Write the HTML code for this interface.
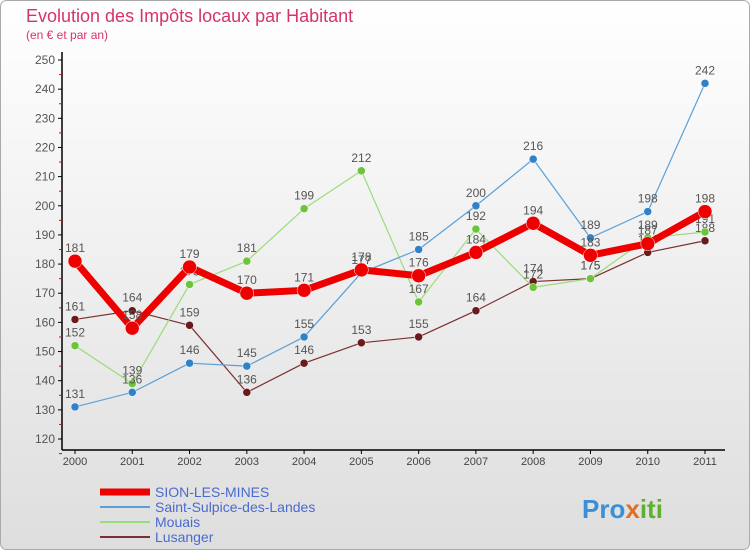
<!DOCTYPE html>
<html><head><meta charset="utf-8"><style>
body{margin:0;width:750px;height:550px;overflow:hidden;font-family:"Liberation Sans",sans-serif}
#c{position:absolute;left:0;top:0}
</style></head><body>
<svg id="c" width="750" height="550">
<defs><linearGradient id="bg" x1="0" y1="0" x2="0" y2="1"><stop offset="0" stop-color="#ffffff"/><stop offset="1" stop-color="#dedede"/></linearGradient></defs>
<rect x="0.5" y="0.5" width="749" height="549" rx="6" fill="url(#bg)" stroke="#aaa"/>
<text x="26" y="22" font-size="18" fill="#d6336c">Evolution des Impôts locaux par Habitant</text>
<text x="26" y="39" font-size="12" fill="#d6336c">(en € et par an)</text>
<g id="axes"></g><g id="series"></g><g id="legend"></g>
<text x="582" y="518" font-size="26" font-weight="bold" fill="#3a8fd6">Pro<tspan fill="#e07020">x</tspan><tspan fill="#60b030">iti</tspan></text>
</svg>
<script>
const years=["2000","2001","2002","2003","2004","2005","2006","2007","2008","2009","2010","2011"];
const yTicks=[120,130,140,150,160,170,180,190,200,210,220,230,240,250];
const sion=[181,158,179,170,171,178,176,184,194,183,187,198];
const sulpice=[131,136,146,145,155,177,185,200,216,189,198,242];
const mouais=[152,139,173,181,199,212,167,192,172,175,189,191];
const lusanger=[161,164,159,136,146,153,155,164,174,175,184,188];
const NS="http://www.w3.org/2000/svg";
const X=i=>75+i*(630/11);
const Y=v=>439-(v-120)*(379/130);
function mk(p,t,a){const e=document.createElementNS(NS,t);for(const k in a)e.setAttribute(k,a[k]);p.appendChild(e);return e;}
const ax=document.getElementById('axes');
const yl=mk(ax,'line',{x1:62,y1:52,x2:62,y2:450,stroke:'#000','stroke-width':1.5});


const xl=mk(ax,'line',{x1:62,y1:450,x2:725,y2:450,stroke:'#000','stroke-width':1.5});


yTicks.forEach(v=>{
 const y=Y(v);
 mk(ax,'line',{x1:58,y1:y,x2:62,y2:y,stroke:'#000'});
 mk(ax,'line',{x1:59,y1:y+14.6,x2:62,y2:y+14.6,stroke:'#e00'});
 const t=mk(ax,'text',{x:55,y:y+4,'font-size':12,'text-anchor':'end',fill:'#555'});
 t.textContent=v;
 
 
});
years.forEach((yr,i)=>{
 const x=X(i);
 mk(ax,'line',{x1:x,y1:450,x2:x,y2:454,stroke:'#000'});
 const t=mk(ax,'text',{x:x,y:465,'font-size':11,'text-anchor':'middle',fill:'#444'});
 t.textContent=yr;
 
 
});
const sg=document.getElementById('series');
function series(data,color,dot,w,r,name){
 const g=mk(sg,'g',{});
 
 
 mk(g,'polyline',{points:data.map((v,i)=>X(i)+','+Y(v)).join(' '),fill:'none',stroke:color,'stroke-width':w,'stroke-linejoin':'round'});
 data.forEach((v,i)=>{
  const c=mk(g,'circle',{cx:X(i),cy:Y(v),r:r,fill:dot,stroke:'#fff','stroke-width':0.5});
  
  
  const t=mk(g,'text',{x:X(i),y:Y(v)-9,'font-size':12,'text-anchor':'middle',fill:'#555'});
  t.textContent=v;
  
  
 });
}
series(lusanger,'#7a3030','#6a1a1a',1.2,4,'lusanger');
series(mouais,'#9bdc7a','#6cc43a',1.2,4,'mouais');
series(sulpice,'#5aa0d8','#2f82c8',1.2,4,'saint-sulpice');
series(sion,'#ee0000','#ee0000',7,7,'sion-les-mines');
const lg=document.getElementById('legend');
[["SION-LES-MINES","#ee0000",7],["Saint-Sulpice-des-Landes","#5aa0d8",2],["Mouais","#9bdc7a",2],["Lusanger","#7a3030",2]].forEach((e,i)=>{
 const y=492+i*15;
 const g=mk(lg,'g',{});
 
 
 mk(g,'line',{x1:100,y1:y,x2:150,y2:y,stroke:e[1],'stroke-width':e[2]});
 const t=mk(g,'text',{x:155,y:y+5,'font-size':14,fill:'#4a6ad0'});
 t.textContent=e[0];
});
</script>
</body></html>
